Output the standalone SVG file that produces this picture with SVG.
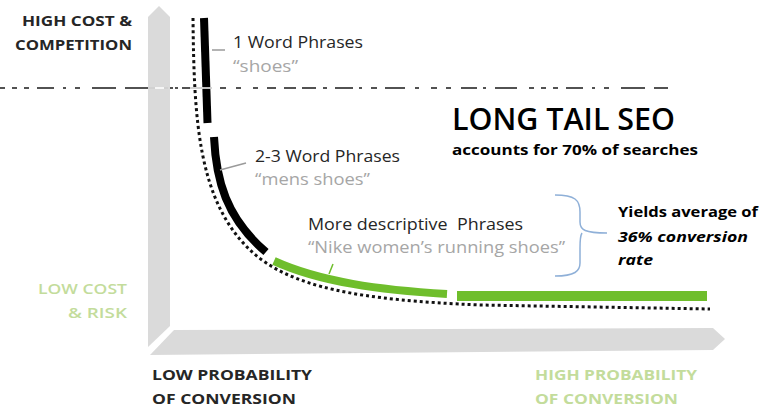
<svg xmlns="http://www.w3.org/2000/svg" width="766" height="409" viewBox="0 0 766 409">
<style>
text{font-family:"Open Sans","Noto Sans","Liberation Sans",sans-serif}
.b{font-weight:700}
.dk{fill:#262626}
.gr{fill:#a6a6a6}
.lg{fill:#c3dc9b}
.axis{fill:#dadada}
.lead{stroke:#9a9a9a;stroke-width:1.5;fill:none}
.blk{stroke:#000;stroke-width:8;fill:none}
.grn{stroke:#6fbe2c;fill:none}
</style>
<rect width="766" height="409" fill="#fff"/>
<g id="axes">
<polygon class="axis" points="148,17 159,6 170,17 170,326 148,347"/>
<polygon class="axis" points="174,330 713,328 725,339 713,350 150,355"/>
</g>
<g id="connectors">
<path d="M193,18 C194,120 198,200 250,250 C290,288 360,300 480,305 L710,309" fill="none" stroke="#111" stroke-width="3" stroke-dasharray="3 3"/>
<line class="blk" x1="204" y1="18" x2="207.5" y2="123"/>
<path class="blk" d="M214,137 C216,180 226,218 266,252"/>
<path class="grn" stroke-width="8" d="M274,261 C320,282 380,290 447,294"/>
<line class="grn" stroke-width="10" x1="457" y1="296" x2="707" y2="296"/>
<line class="lead" x1="212" y1="50" x2="225" y2="50"/>
<line class="lead" x1="220" y1="170" x2="246" y2="163"/>
<line x1="329" y1="274" x2="333" y2="264" stroke="#6fbe2c" stroke-width="1.5"/>
<path d="M555,195 C575,195 580,200 580,212 L580,222 C580,230 585,233 607,233 M582,233 C580,236 580,240 580,248 L580,263 C580,271 575,276 555,276" fill="none" stroke="#8fb0d8" stroke-width="1.5"/>
<line x1="0" y1="88" x2="668" y2="88" stroke="#1a1a1a" stroke-width="1.5" stroke-dasharray="5 7 5 7 5 8 17 9 3 9 5 12 24 9 30 9 4 2 3 2 3 4 20 7 3 8 6 10 5 12 5 9 9 8 12 6 14 7 4 8 18 6 3 9 6 8 20 10 4 12 6 9 5 10 16 6 3 9 22 12"/>
<line x1="148" y1="88" x2="168" y2="88" stroke="#fff" stroke-width="1.5"/>
<line x1="190" y1="88" x2="212" y2="88" stroke="#fff" stroke-width="1.5"/>
</g>
<g id="n-highcost">
<text class="b dk" x="132" y="26" font-size="15" text-anchor="end" textLength="110" lengthAdjust="spacingAndGlyphs">HIGH COST &amp;</text>
<text class="b dk" x="132" y="50" font-size="15" text-anchor="end" textLength="117" lengthAdjust="spacingAndGlyphs">COMPETITION</text>
</g>
<g id="n-lowcost">
<text class="lg" x="127" y="294" font-size="15" font-weight="600" text-anchor="end" textLength="89" lengthAdjust="spacingAndGlyphs">LOW COST</text>
<text class="lg" x="127" y="318" font-size="15" font-weight="600" text-anchor="end" textLength="59" lengthAdjust="spacingAndGlyphs">&amp; RISK</text>
</g>
<g id="n-1word">
<text class="dk" x="233" y="48" font-size="16" textLength="130" lengthAdjust="spacingAndGlyphs">1 Word Phrases</text>
<text class="gr" x="233" y="72" font-size="16" textLength="65" lengthAdjust="spacingAndGlyphs">“shoes”</text>
</g>
<g id="n-title">
<text fill="#000" x="452" y="130" font-size="30" font-weight="600" textLength="223" lengthAdjust="spacingAndGlyphs">LONG TAIL SEO</text>
<text class="b" fill="#000" x="452" y="155" font-size="15" textLength="246" lengthAdjust="spacingAndGlyphs">accounts for 70% of searches</text>
</g>
<g id="n-23word">
<text class="dk" x="255" y="162" font-size="16" textLength="145" lengthAdjust="spacingAndGlyphs">2-3 Word Phrases</text>
<text class="gr" x="255" y="185" font-size="16" textLength="115" lengthAdjust="spacingAndGlyphs">“mens shoes”</text>
</g>
<g id="n-descriptive">
<text class="dk" x="308" y="230" font-size="16" textLength="215" lengthAdjust="spacingAndGlyphs" xml:space="preserve">More descriptive  Phrases</text>
<text class="gr" x="308" y="253" font-size="16" textLength="257" lengthAdjust="spacingAndGlyphs">“Nike women’s running shoes”</text>
</g>
<g id="n-yields">
<text class="b" fill="#000" x="618" y="217" font-size="15" textLength="140" lengthAdjust="spacingAndGlyphs">Yields average of</text>
<text class="b" fill="#000" x="618" y="242" font-size="15" font-style="italic" textLength="130" lengthAdjust="spacingAndGlyphs">36% conversion</text>
<text class="b" fill="#000" x="618" y="265" font-size="15" font-style="italic" textLength="35" lengthAdjust="spacingAndGlyphs">rate</text>
</g>
<g id="n-lowprob">
<text class="b dk" x="152" y="380" font-size="15" textLength="160" lengthAdjust="spacingAndGlyphs">LOW PROBABILITY</text>
<text class="b dk" x="152" y="404" font-size="15" textLength="144" lengthAdjust="spacingAndGlyphs">OF CONVERSION</text>
</g>
<g id="n-highprob">
<text class="b lg" x="535" y="380" font-size="15" textLength="162" lengthAdjust="spacingAndGlyphs">HIGH PROBABILITY</text>
<text class="b lg" x="535" y="404" font-size="15" textLength="143" lengthAdjust="spacingAndGlyphs">OF CONVERSION</text>
</g>
</svg>
